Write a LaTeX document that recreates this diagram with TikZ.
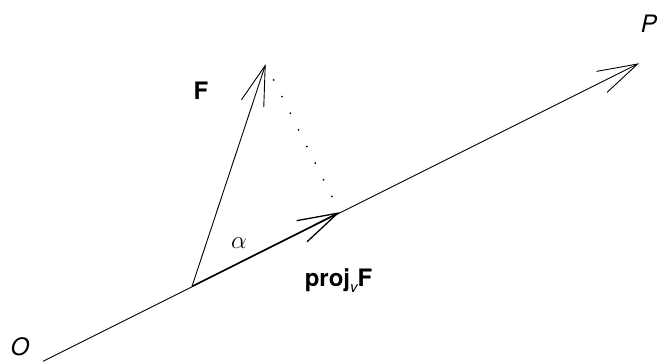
\documentclass[tikz,border=0pt]{standalone}
\usepackage{fontspec}
\setmainfont{TeX Gyre Heros}
\usetikzlibrary{arrows.meta}
\begin{document}
\begin{tikzpicture}[x=1pt,y=-1pt, line width=0.9pt,
  vec/.style={-{Straight Barb[length=40pt,width=23.5pt]}},
  lbl/.style={font=\fontsize{24}{28}\selectfont, inner sep=0pt}]
\useasboundingbox (0,0) rectangle (658,362);
\coordinate (O) at (43,361.3);
\coordinate (P) at (639,63.3);
\coordinate (A) at (192,286.3);
\coordinate (Ft) at (265.7,64);
\coordinate (Pr) at (339.7,212.2);
\draw[vec] (O) -- (P);
\draw[vec] (A) -- (Ft);
\draw[vec, line width=1.3pt] (A) -- (Pr);
\draw[line width=1.4pt, dash pattern=on 1.4pt off 17.2pt, dash phase=1.5pt] (Ft) -- (Pr);
\node[lbl] (lP) at (649,23.3) {\textit{P}};
\node[lbl] (lO) at (20,347) {\textit{O}};
\node[lbl] (lF) at (201,90.7) {\textbf{F}};
\node[lbl] (la) at (239,243.5) {$\alpha$};
\node[lbl, anchor=base] (lproj) at (338.5,286.7) {\textbf{proj}\raisebox{-6pt}{\fontsize{15}{15}\selectfont\itshape v}\textbf{F}};
\end{tikzpicture}
\end{document}
